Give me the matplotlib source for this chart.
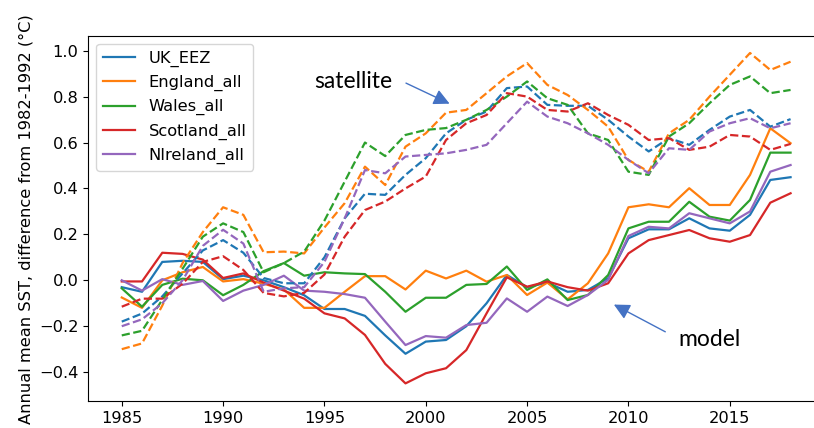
import numpy as np
import matplotlib
matplotlib.use("Agg")
import matplotlib.pyplot as plt

years = np.arange(1985, 2019)
regions = ["UK_EEZ", "England_all", "Wales_all", "Scotland_all", "NIreland_all"]

# model anomalies (solid)
model_uk = [-0.03, -0.05, 0.08, 0.085, 0.08, 0.005, 0.02, 0.0, -0.03, -0.065, -0.125, -0.125,
            -0.155, -0.24, -0.32, -0.267, -0.26, -0.2, -0.1, 0.023, -0.03, -0.01, -0.05, -0.042,
            0.009, 0.183, 0.222, 0.222, 0.27, 0.226, 0.216, 0.285, 0.437, 0.449]
model_eng = [-0.075, -0.12, 0.0, 0.035, 0.058, -0.005, 0.005, -0.015, -0.04, -0.12, -0.12, -0.05,
             0.018, 0.018, -0.04, 0.042, 0.008, 0.042, -0.006, 0.023, -0.064, -0.01, -0.083, -0.013,
             0.117, 0.318, 0.331, 0.318, 0.401, 0.328, 0.328, 0.459, 0.662, 0.597]
model_wal = [-0.035, -0.115, -0.02, 0.007, 0.0, -0.065, -0.02, 0.04, 0.075, 0.02, 0.035, 0.03,
             0.027, -0.05, -0.137, -0.076, -0.076, -0.02, -0.016, 0.06, -0.042, 0.004, -0.086, -0.064,
             0.023, 0.226, 0.255, 0.255, 0.342, 0.277, 0.26, 0.35, 0.556, 0.556]
model_sco = [-0.005, -0.005, 0.12, 0.115, 0.09, 0.01, 0.03, -0.01, -0.045, -0.08, -0.144, -0.166,
             -0.238, -0.364, -0.449, -0.405, -0.383, -0.304, -0.144, 0.013, -0.028, -0.005, -0.03, -0.045,
             -0.013, 0.117, 0.175, 0.197, 0.219, 0.183, 0.168, 0.197, 0.338, 0.379]
model_nir = [0.0, -0.045, 0.005, -0.02, -0.003, -0.09, -0.045, -0.02, 0.02, -0.045, -0.05, -0.06,
             -0.076, -0.18, -0.282, -0.243, -0.25, -0.195, -0.185, -0.079, -0.137, -0.071, -0.112, -0.064,
             0.002, 0.193, 0.233, 0.226, 0.292, 0.27, 0.248, 0.3, 0.473, 0.502]

# satellite anomalies (dashed)
sat_uk = [-0.18, -0.145, -0.07, 0.03, 0.13, 0.175, 0.12, 0.01, -0.013, -0.013, 0.1, 0.27,
          0.377, 0.372, 0.459, 0.532, 0.64, 0.699, 0.735, 0.837, 0.844, 0.764, 0.76, 0.76,
          0.699, 0.626, 0.561, 0.619, 0.59, 0.655, 0.713, 0.742, 0.669, 0.702]
sat_eng = [-0.30, -0.275, -0.11, 0.075, 0.21, 0.318, 0.285, 0.122, 0.125, 0.117, 0.23, 0.336,
           0.495, 0.415, 0.582, 0.64, 0.73, 0.742, 0.815, 0.888, 0.946, 0.851, 0.807, 0.742,
           0.669, 0.524, 0.473, 0.64, 0.699, 0.8, 0.895, 0.99, 0.916, 0.952]
sat_wal = [-0.24, -0.22, -0.085, 0.05, 0.19, 0.248, 0.21, 0.035, 0.075, 0.125, 0.26, 0.43,
           0.60, 0.541, 0.633, 0.655, 0.663, 0.699, 0.742, 0.8, 0.866, 0.793, 0.764, 0.64,
           0.611, 0.473, 0.459, 0.626, 0.684, 0.771, 0.851, 0.888, 0.815, 0.829]
sat_sco = [-0.115, -0.08, -0.08, -0.015, 0.08, 0.105, 0.045, -0.055, -0.07, -0.055, 0.025, 0.19,
           0.306, 0.343, 0.4, 0.452, 0.611, 0.684, 0.72, 0.815, 0.8, 0.742, 0.735, 0.771,
           0.72, 0.677, 0.611, 0.619, 0.568, 0.582, 0.633, 0.626, 0.568, 0.594]
sat_nir = [-0.2, -0.17, -0.1, 0.0, 0.15, 0.22, 0.16, -0.05, -0.035, -0.03, 0.08, 0.27,
           0.48, 0.466, 0.539, 0.546, 0.553, 0.568, 0.59, 0.684, 0.778, 0.713, 0.684, 0.64,
           0.59, 0.524, 0.466, 0.575, 0.568, 0.648, 0.684, 0.706, 0.662, 0.684]

model = [model_uk, model_eng, model_wal, model_sco, model_nir]
sat = [sat_uk, sat_eng, sat_wal, sat_sco, sat_nir]
colors = ["tab:blue", "tab:orange", "tab:green", "tab:red", "tab:purple"]

fs = 11.7
fig = plt.figure(figsize=(8.14, 4.28), dpi=100)
ax = fig.add_axes([0.1085, 0.0624, 0.9038, 0.8535])

for name, m, c in zip(regions, model, colors):
    ax.plot(years, m, color=c, lw=1.6, label=name)
for s, c in zip(sat, colors):
    ax.plot(years, s, color=c, lw=1.6, ls="--")

ax.set_ylim(-0.527, 1.064)
ax.set_ylabel("Annual mean SST, difference from 1982-1992 (\u00b0C)", fontsize=fs)
ax.tick_params(labelsize=fs)
ax.legend(loc="upper left", fontsize=fs)

# labels with arrows
arrow = dict(arrowstyle="-|>", color="#4472C4", lw=1, mutation_scale=24)
ax.annotate("", xy=(2001.3, 0.764), xytext=(1998.9, 0.864), arrowprops=arrow)
ax.text(1996.4, 0.864, "satellite", fontsize=16.5, family="Lato", ha="center", va="center")
ax.annotate("", xy=(2009.16, -0.10), xytext=(2011.94, -0.23), arrowprops=arrow)
ax.text(2013.99, -0.256, "model", fontsize=16.5, family="Lato", ha="center", va="center")

fig.savefig("out.png", dpi=100)
